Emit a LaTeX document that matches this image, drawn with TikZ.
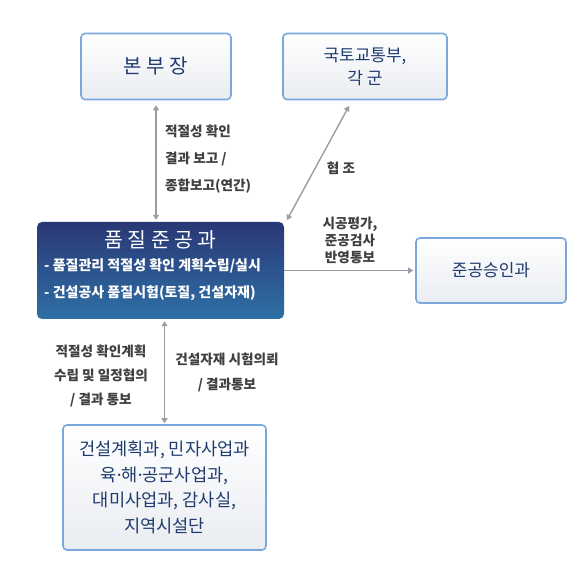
\documentclass[tikz,border=0pt]{standalone}
\usepackage{fontspec}
\setmainfont{Noto Sans CJK KR}
\newfontfamily\latinfnt{Noto Sans}
\usetikzlibrary{arrows.meta}
\definecolor{navy}{HTML}{1F3B6F}
\definecolor{lbl}{HTML}{404040}
\definecolor{boxline}{HTML}{7BA7DA}
\definecolor{boxbot}{HTML}{E9ECF1}
\definecolor{maintop}{HTML}{2A3775}
\definecolor{mainbot}{HTML}{2E70A6}
\definecolor{arrgray}{HTML}{989DA7}
\tikzset{
  lightbox/.style={draw=boxline, line width=1.6pt, rounded corners=4pt, top color=white, bottom color=boxbot, inner sep=0pt},
  mainbox/.style={rounded corners=5pt, top color=maintop, bottom color=mainbot, inner sep=0pt},
  arr/.style={draw=arrgray, line width=1.4pt, {Triangle[width=6pt,length=5pt]}-{Triangle[width=6pt,length=5pt]}},
  arrone/.style={draw=arrgray, line width=1.4pt, -{Triangle[width=6pt,length=5pt]}},
  lab/.style={text=lbl, font=\bfseries\fontsize{13.6}{27}\selectfont, inner sep=0pt},
  boxtext/.style={text=navy, font=\fontsize{17.6}{25.7}\selectfont, inner sep=0pt, align=center},
}
\begin{document}
\begin{tikzpicture}[x=1pt,y=-1pt]
\useasboundingbox (0,0) rectangle (587,572);
\fill[white] (0,0) rectangle (587,572);
% boxes
\node[lightbox, minimum width=150pt, minimum height=66pt] (bonbu) at (156,66.5) {};
\node[boxtext, font=\fontsize{20}{22}\selectfont] (bonbut) at (bonbu.center) {본 부 장};
\node[lightbox, minimum width=164pt, minimum height=66pt] (kuk) at (365,66.5) {};
\node[boxtext, font=\fontsize{17}{23}\selectfont] (kukt) at (kuk.center) {국토교통부,\\각 군};
\node[mainbox, minimum width=247pt, minimum height=97pt] (main) at (160.5,270.5) {};
\node[text=white, font=\fontsize{20.5}{22}\selectfont, inner sep=0pt] (maint) at (160.5,240) {품 질 준 공 과};
\node[text=white, font=\bfseries\fontsize{14}{15}\selectfont, inner sep=0pt, anchor=west] (mainl1) at (44,266) {- 품질관리 적절성 확인 계획수립/실시};
\node[text=white, font=\bfseries\fontsize{14}{15}\selectfont, inner sep=0pt, anchor=west] (mainl2) at (44,293) {- 건설공사 품질시험(토질, 건설자재)};
\node[lightbox, minimum width=150pt, minimum height=65pt] (jun) at (491,270.5) {};
\node[boxtext, font=\fontsize{17}{22}\selectfont] (junt) at (jun.center) {준공승인과};
\node[lightbox, minimum width=203pt, minimum height=125pt] (bot) at (164.5,487.5) {};
\node[boxtext] (bott) at (bot.center) {건설계획과, 민자사업과\\육{\latinfnt ·}해{\latinfnt ·}공군사업과,\\대미사업과, 감사실,\\지역시설단};
% connectors
\draw[arr, shorten <=5pt, shorten >=2pt] (bonbu.south) -- (bonbu.south |- main.north);
\coordinate (dA) at (287,220);
\coordinate (dB) at (349,106);
\draw[arr] (dA) -- (dB);
\draw[arrone] (main.east) -- ([xshift=-2pt]jun.west);
\draw[arr, shorten <=1pt, shorten >=2pt] (bot.north) -- (bot.north |- main.south);
% labels
\node[lab, align=left, anchor=north west] (l1) at (165,125) {적절성 확인\\결과 보고 /\\종합보고(연간)};
\node[lab] (l2) at (341,168) {협 조};
\node[lab, align=center, font=\bfseries\fontsize{13.6}{17}\selectfont] (l3) at (350,240) {시공평가,\\준공검사\\반영통보};
\node[lab, align=center, font=\bfseries\fontsize{13.6}{24}\selectfont] (l4) at (101,376) {적절성 확인계획\\수립 및 일정협의\\/ 결과 통보};
\node[lab, align=center, font=\bfseries\fontsize{13.6}{25}\selectfont] (l5) at (227,372.5) {건설자재 시험의뢰\\/ 결과통보};
\end{tikzpicture}
\end{document}
